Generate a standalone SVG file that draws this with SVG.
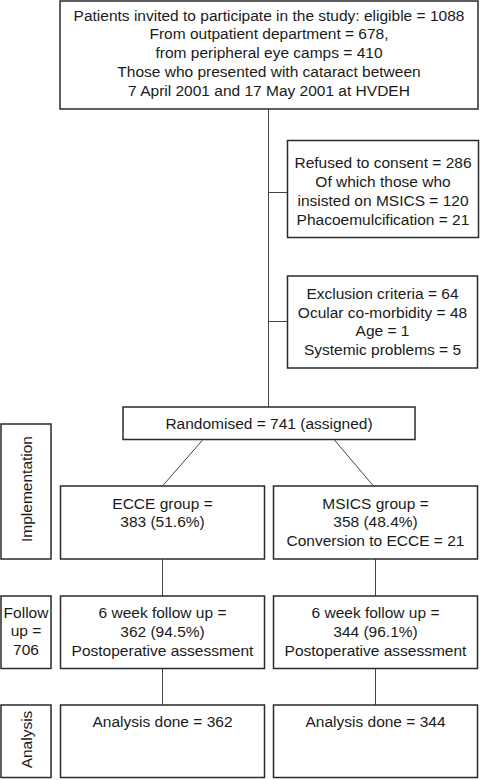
<svg xmlns="http://www.w3.org/2000/svg" width="480" height="780" viewBox="0 0 480 780">
<style>
.box{fill:#fff;stroke:#2a2a2a;stroke-width:1.5}
.ln{stroke:#444;stroke-width:1;fill:none}
text{font-family:"Liberation Sans",Arial,sans-serif;font-size:15.5px;fill:#1a1a1a;text-anchor:middle}
</style>
<rect width="480" height="780" fill="#fff"/>
<g id="connectors">
<line class="ln" x1="268.5" y1="109" x2="268.5" y2="407"/>
<line class="ln" x1="268.5" y1="192.5" x2="287.5" y2="192.5"/>
<line class="ln" x1="268.5" y1="321.5" x2="287.5" y2="321.5"/>
<line class="ln" x1="203" y1="439.5" x2="162.5" y2="486"/>
<line class="ln" x1="334" y1="439.5" x2="373.5" y2="486"/>
<line class="ln" x1="162.5" y1="559" x2="162.5" y2="596"/>
<line class="ln" x1="375.5" y1="559" x2="375.5" y2="596"/>
<line class="ln" x1="162.5" y1="668.5" x2="162.5" y2="705"/>
<line class="ln" x1="375.5" y1="668.5" x2="375.5" y2="705"/>
</g>
<g id="eligible">
<rect class="box" x="60" y="1" width="418" height="108"/>
<text x="269" y="20.7">Patients invited to participate in the study: eligible = 1088</text>
<text x="269" y="39.4">From outpatient department = 678,</text>
<text x="269" y="58.1">from peripheral eye camps = 410</text>
<text x="269" y="76.8">Those who presented with cataract between</text>
<text x="269" y="95.5">7 April 2001 and 17 May 2001 at HVDEH</text>
</g>
<g id="refused">
<rect class="box" x="287.5" y="140.5" width="191" height="97"/>
<text x="383" y="167.7">Refused to consent = 286</text>
<text x="383" y="186.7">Of which those who</text>
<text x="383" y="205.7">insisted on MSICS = 120</text>
<text x="383" y="224.5">Phacoemulcification = 21</text>
</g>
<g id="exclusion">
<rect class="box" x="287.5" y="276" width="190" height="92"/>
<text x="382.5" y="299.3">Exclusion criteria = 64</text>
<text x="382.5" y="317.8">Ocular co-morbidity = 48</text>
<text x="382.5" y="336.3">Age = 1</text>
<text x="382.5" y="355">Systemic problems = 5</text>
</g>
<g id="randomised">
<rect class="box" x="123" y="407" width="292" height="32.5"/>
<text x="269" y="428.5">Randomised = 741 (assigned)</text>
</g>
<g id="implementation">
<rect class="box" x="1" y="424" width="50" height="135"/>
<text transform="translate(32,489) rotate(-90)">Implementation</text>
</g>
<g id="ecce">
<rect class="box" x="60.5" y="486" width="204" height="73"/>
<text x="162.5" y="508.5">ECCE group =</text>
<text x="162.5" y="527.3">383 (51.6%)</text>
</g>
<g id="msics">
<rect class="box" x="273.5" y="486" width="204" height="73"/>
<text x="375.5" y="508.5">MSICS group =</text>
<text x="375.5" y="527.3">358 (48.4%)</text>
<text x="375.5" y="546.3">Conversion to ECCE = 21</text>
</g>
<g id="followup-label">
<rect class="box" x="1" y="596" width="50" height="72.5"/>
<text x="26" y="617.5">Follow</text>
<text x="26" y="636.3">up =</text>
<text x="26" y="655.3">706</text>
</g>
<g id="followup-ecce">
<rect class="box" x="60.5" y="596" width="204" height="72.5"/>
<text x="162.5" y="617.7">6 week follow up =</text>
<text x="162.5" y="636.5">362 (94.5%)</text>
<text x="162.5" y="655.5">Postoperative assessment</text>
</g>
<g id="followup-msics">
<rect class="box" x="273.5" y="596" width="204" height="72.5"/>
<text x="375.5" y="617.7">6 week follow up =</text>
<text x="375.5" y="636.5">344 (96.1%)</text>
<text x="375.5" y="655.5">Postoperative assessment</text>
</g>
<g id="analysis-label">
<rect class="box" x="1" y="705" width="50" height="72.5"/>
<text transform="translate(32,739.5) rotate(-90)">Analysis</text>
</g>
<g id="analysis-ecce">
<rect class="box" x="60.5" y="705" width="204" height="72.5"/>
<text x="162.5" y="726.7">Analysis done = 362</text>
</g>
<g id="analysis-msics">
<rect class="box" x="273.5" y="705" width="204" height="72.5"/>
<text x="375.5" y="726.7">Analysis done = 344</text>
</g>
</svg>
